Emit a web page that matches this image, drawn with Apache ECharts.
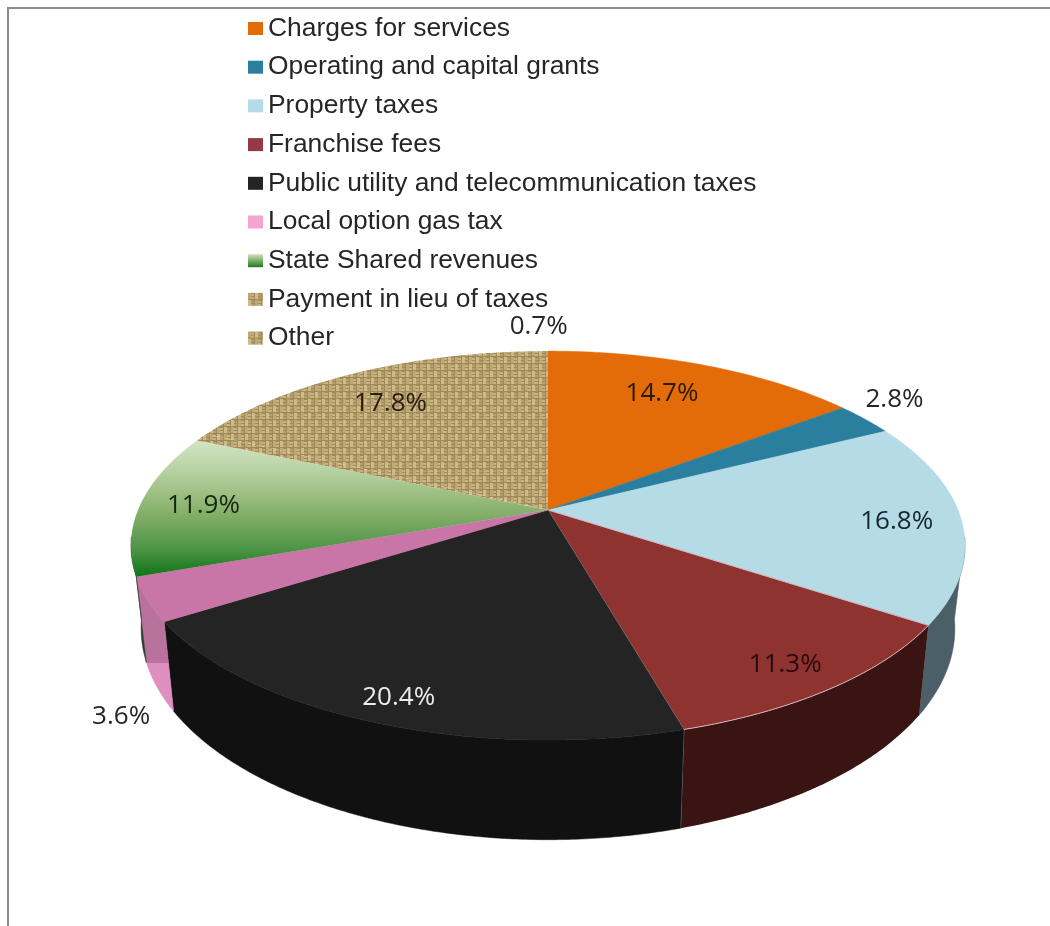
<!DOCTYPE html>
<html>
<head>
<meta charset="utf-8">
<style>html,body{margin:0;padding:0;background:#fff}#chart{width:1050px;height:926px}</style>
<script src="https://cdn.jsdelivr.net/npm/echarts@6/dist/echarts.min.js"></script>
</head>
<body>
<div id="chart"></div>
<script>
// Revenue sources, share of total in percent, clockwise from twelve o'clock.
const categories = ['Charges for services', 'Operating and capital grants', 'Property taxes', 'Franchise fees',
  'Public utility and telecommunication taxes', 'Local option gas tax', 'State Shared revenues',
  'Payment in lieu of taxes', 'Other'];
const shares = [14.7, 2.8, 16.8, 11.3, 20.4, 3.6, 11.9, 0.7, 17.8];

// Projection of the tilted disc: hub position, radii and perspective factor.
const hub = { x: 548, y: 510 };
const topDisc = { cx: 548, cy: 510, a: 410, b: 188 };
const baseDisc = { cx: 548, cy: 590, a: 400, b: 204 };
const persp = 0.183;
const wallFrom = 98, wallTo = 262;      // angles where the side wall is visible

// Label placement per slice: radius fraction and angle nudge from the slice centre.
const labelRadius = [0.763, 1.152, 0.843, 0.875, 0.897, 1.26, 0.844, 1.184, 0.761];
const labelNudge = [-2.2, -2.7, 1.05, 1.1, -0.8, -20.6, -0.5, 64, -2.2];
const labelColors = ['#2a1a08', '#262626', '#16262c', '#260a0a', '#ececec', '#262626', '#12280f', '#262626', '#2a2010'];

function project(disc, deg, r) {
  const t = deg * Math.PI / 180;
  const u = r * Math.sin(t), v = r * Math.cos(t);
  const d = 1 + persp * v;
  return [disc.cx + disc.a * u / d, disc.cy - disc.b * v / d];
}
function arc(disc, from, to) {
  const pts = [];
  const n = Math.max(2, Math.ceil(Math.abs(to - from) * 2));
  for (let i = 0; i <= n; i++) pts.push(project(disc, from + (to - from) * i / n, 1));
  return pts;
}

// Burlap weave tile for the two textured slices: darker gaps between pale threads.
function weaveTile() {
  const c = document.createElement('canvas');
  c.width = c.height = 14;
  const g = c.getContext('2d');
  g.fillStyle = '#a18a5a';
  g.fillRect(0, 0, 14, 14);
  for (let i = 0; i < 2; i++) for (let j = 0; j < 2; j++) {
    const x = i * 7, y = j * 7;
    g.fillStyle = (i + j) % 2 ? '#cfbb88' : '#bea873';
    g.fillRect(x, y, 3, 6);
    g.fillStyle = (i + j) % 2 ? '#b7a06c' : '#c8b482';
    g.fillRect(x + 3, y + 1, 3, 2);
    g.fillRect(x + 3, y + 4, 3, 2);
  }
  return c;
}
const weave = { image: weaveTile(), repeat: 'repeat' };
const grad = (stops) => new echarts.graphic.LinearGradient(0, 0, 0, 1, stops.map(s => ({ offset: s[0], color: s[1] })));

const greenFace = grad([[0, '#d4e4c6'], [0.25, '#b3cf9c'], [0.55, '#83ad68'], [0.8, '#4d9446'], [1, '#0f7416']]);
const pinkWall = grad([[0, '#b8729b'], [0.64, '#b8729b'], [0.645, '#de8ebf'], [1, '#de8ebf']]);

const faceFill = ['#e36c09', '#2b7f9e', '#b5dbe6', '#8f3331', '#242424', '#c975a8', greenFace, weave, weave];
const wallFill = ['#8a4206', '#1c4c60', '#4a5f68', '#3a1412', '#111111', pinkWall, '#2b3d2b', '#6b5a3a', '#6b5a3a'];
const edgeColor = [null, null, null, '#d8b4c0', null, null, null, null, null];
const legendFill = ['#e36c09', '#2b7f9e', '#b5dbe6', '#953a44', '#242424', '#f2a4d3',
  grad([[0, '#cfe2c0'], [0.5, '#7fae66'], [1, '#1a7a1f']]), weave, weave];

const total = shares.reduce((a, b) => a + b, 0);

function sliceSeries(name, i) {
  const before = shares.slice(0, i).reduce((a, b) => a + b, 0);
  return {
    type: 'custom',
    name: name,
    coordinateSystem: 'none',
    data: [[shares[i]]],
    itemStyle: { color: legendFill[i] },
    z: 2,
    renderItem: function (params, api) {
      const from = before / total * 360;
      const to = from + api.value(0) / total * 360;
      const children = [];
      const lo = Math.max(from, wallFrom), hi = Math.min(to, wallTo);
      if (hi > lo) {
        const rimTop = arc(topDisc, lo, hi);
        const rimBase = arc(baseDisc, lo, hi).reverse();
        children.push({
          type: 'polygon',
          shape: { points: rimTop.concat(rimBase) },
          style: { fill: wallFill[i], stroke: edgeColor[i] ? null : wallFill[i], lineWidth: 0.5 }
        });
        if (edgeColor[i]) {
          children.push({
            type: 'polyline',
            shape: { points: [project(topDisc, hi, 1), project(baseDisc, hi, 1)] },
            style: { fill: null, stroke: '#b9a9c4', lineWidth: 1 }
          });
        }
      }
      children.push({
        type: 'polygon',
        shape: { points: [[hub.x, hub.y]].concat(arc(topDisc, from, to)) },
        style: {
          fill: faceFill[i],
          stroke: edgeColor[i] || (typeof faceFill[i] === 'string' ? faceFill[i] : null),
          lineWidth: edgeColor[i] ? 1 : 0.5
        }
      });
      const mid = (from + to) / 2 + labelNudge[i];
      const p = project(topDisc, mid, labelRadius[i]);
      children.push({
        type: 'text',
        z2: 50,
        style: {
          x: p[0], y: p[1],
          text: api.value(0).toFixed(1) + '%',
          fill: labelColors[i],
          font: '26px "Open Sans", "Noto Sans", sans-serif',
          align: 'center', verticalAlign: 'middle'
        }
      });
      return { type: 'group', children: children };
    }
  };
}

const chart = echarts.init(document.getElementById('chart'), null, { renderer: 'canvas' });
chart.setOption({
  animation: false,
  backgroundColor: '#ffffff',
  legend: {
    orient: 'vertical',
    left: 248,
    top: 15.5,
    padding: 0,
    itemGap: 12.7,
    itemWidth: 15,
    itemHeight: 13,
    selectedMode: false,
    icon: 'rect',
    textStyle: {
      fontFamily: '"Liberation Sans", Arial, sans-serif',
      fontSize: 26.4,
      lineHeight: 26,
      color: '#262626',
      padding: [0, 0, 0, 0]
    },
    data: categories.map((name, i) => ({ name: name, icon: 'rect', itemStyle: { color: legendFill[i] } }))
  },
  graphic: [
    { type: 'polyline', silent: true, z: 0, shape: { points: [[8, 926], [8, 8], [1050, 8]] },
      style: { fill: null, stroke: '#8c8c8c', lineWidth: 2 } }
  ],
  series: categories.map(sliceSeries)
});
</script>
</body>
</html>
